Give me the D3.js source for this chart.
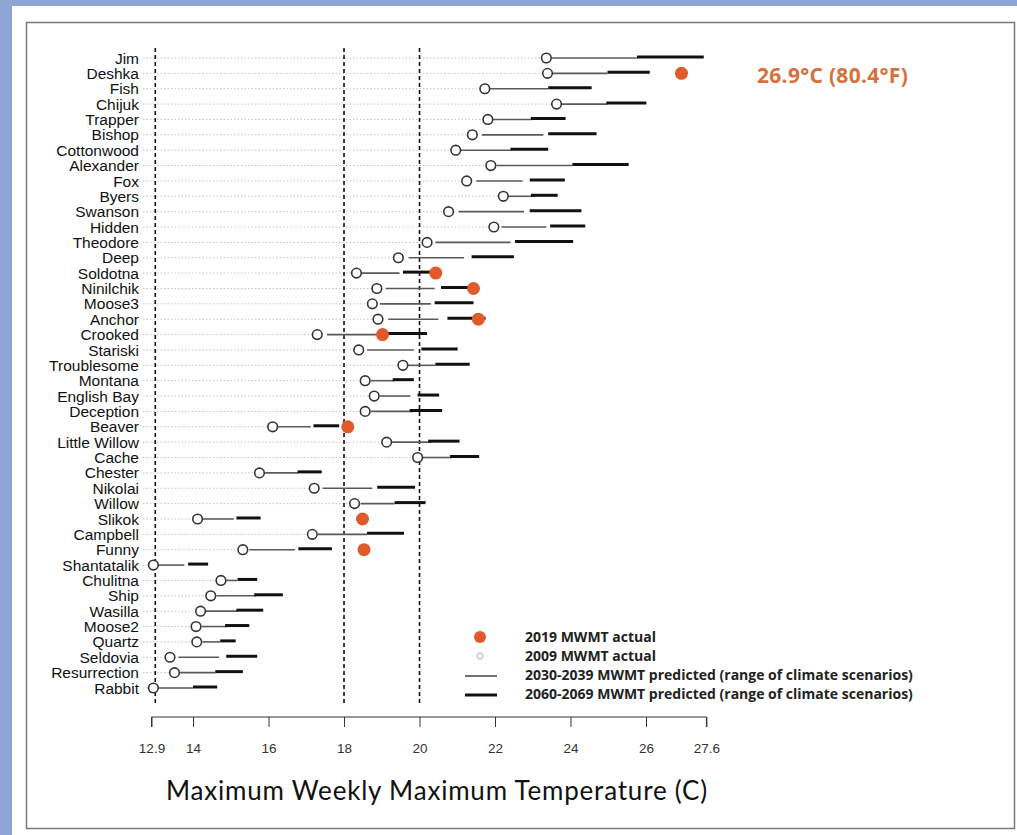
<!DOCTYPE html>
<html>
<head>
<meta charset="utf-8">
<script src="https://cdn.jsdelivr.net/npm/d3@7"></script>
<style>
  body { margin: 0; background: #ffffff; }
  svg { display: block; }
</style>
</head>
<body>
<div id="chart"></div>
<script>
// Stream temperature chart: MWMT per site, 2009 / 2019 observed and projected ranges

const sites = ["Jim", "Deshka", "Fish", "Chijuk", "Trapper", "Bishop", "Cottonwood", "Alexander", "Fox", "Byers",
  "Swanson", "Hidden", "Theodore", "Deep", "Soldotna", "Ninilchik", "Moose3", "Anchor", "Crooked", "Stariski",
  "Troublesome", "Montana", "English Bay", "Deception", "Beaver", "Little Willow", "Cache", "Chester", "Nikolai", "Willow",
  "Slikok", "Campbell", "Funny", "Shantatalik", "Chulitna", "Ship", "Wasilla", "Moose2", "Quartz", "Seldovia",
  "Resurrection", "Rabbit"];

// 2009 MWMT actual (open circles)
const actual2009 = [23.36, 23.39, 21.73, 23.63, 21.81, 21.40, 20.96, 21.89, 21.25, 22.22,
  20.77, 21.97, 20.20, 19.44, 18.33, 18.87, 18.75, 18.90, 17.29, 18.39,
  19.56, 18.56, 18.80, 18.56, 16.11, 19.13, 19.95, 15.76, 17.21, 18.28,
  14.12, 17.16, 15.32, 12.95, 14.74, 14.47, 14.20, 14.08, 14.10, 13.39,
  13.51, 12.95];

// 2019 MWMT actual (only some sites)
const actual2019 = [null, 26.94, null, null, null, null, null, null, null, null,
  null, null, null, null, 20.43, 21.43, null, 21.56, 19.02, null,
  null, null, null, null, 18.10, null, null, null, null, null,
  18.49, null, 18.53, null, null, null, null, null, null, null,
  null, null];

// 2030-2039 predicted range
const low2030 = [23.50, 23.51, 21.84, 23.75, 21.94, 21.65, 21.09, 22.04, 21.50, 22.33,
  21.03, 22.17, 20.42, 19.71, 18.46, 19.10, 18.95, 19.17, 17.55, 18.61,
  19.69, 18.71, 18.95, 18.71, 16.25, 19.27, 20.08, 15.91, 17.43, 18.44,
  14.26, 17.31, 15.49, 13.07, 14.88, 14.62, 14.34, 14.23, 14.25, 13.61,
  13.66, 13.07];
const high2030 = [25.76, 24.98, 23.41, 24.98, 22.97, 23.28, 22.43, 24.05, 22.73, 23.07,
  22.77, 23.36, 22.41, 21.18, 19.47, 20.40, 20.30, 20.50, 18.95, 19.85,
  20.42, 19.34, 19.76, 19.83, 17.12, 20.32, 20.86, 16.79, 18.75, 19.34,
  15.08, 18.61, 16.70, 13.77, 15.18, 15.67, 15.18, 14.91, 14.72, 14.69,
  14.59, 14.00];

// 2060-2069 predicted range
const low2060 = [25.76, 24.98, 23.41, 24.95, 22.95, 23.41, 22.41, 24.05, 22.92, 22.95,
  22.92, 23.46, 22.53, 21.38, 19.56, 20.57, 20.40, 20.74, 18.95, 20.05,
  20.42, 19.29, 19.95, 19.74, 17.19, 20.23, 20.81, 16.77, 18.88, 19.34,
  15.15, 18.61, 16.79, 13.87, 15.18, 15.62, 15.15, 14.85, 14.72, 14.88,
  14.59, 14.00];
const high2060 = [27.53, 26.10, 24.56, 26.01, 23.87, 24.69, 23.41, 25.54, 23.85, 23.66,
  24.29, 24.39, 24.07, 22.50, 20.32, 21.40, 21.43, 21.75, 20.20, 21.01,
  21.33, 19.85, 20.52, 20.60, 17.87, 21.06, 21.58, 17.41, 19.88, 20.16,
  15.79, 19.59, 17.68, 14.40, 15.70, 16.38, 15.86, 15.49, 15.13, 15.70,
  15.32, 14.64];

const thresholds = [13, 18, 20];
const tickValues = [12.9, 14, 16, 18, 20, 22, 24, 26, 27.6];
const legendItems = ["2019 MWMT actual", "2009 MWMT actual",
  "2030-2039 MWMT predicted (range of climate scenarios)",
  "2060-2069 MWMT predicted (range of climate scenarios)"];

const orange = "#e05a2b";
const W = 1017, H = 835;

const svg = d3.select("#chart").append("svg")
  .attr("width", W)
  .attr("height", H);

// Page background: blue strips at the left and top edge, then a framed white panel
svg.append("rect").attr("x", 0).attr("y", 0).attr("width", W).attr("height", H).attr("fill", "#8ea6d6");
svg.append("rect").attr("x", 12).attr("y", 6).attr("width", W - 12).attr("height", H - 6).attr("fill", "#ffffff");
svg.append("rect")
  .attr("x", 26.5).attr("y", 22.5).attr("width", 988).attr("height", 806)
  .attr("fill", "none").attr("stroke", "#7a7a7a").attr("stroke-width", 1.5);

const xScale = d3.scaleLinear()
  .domain([12.9, 27.6])
  .range([151.5, 706.4]);

const yScale = d3.scalePoint()
  .domain(sites)
  .range([58, 688]);

// Dotted guide from the label to the 2009 value
svg.append("g")
  .selectAll("line")
  .data(sites)
  .enter()
  .append("line")
  .attr("x1", 143)
  .attr("x2", (d, i) => xScale(actual2009[i]))
  .attr("y1", d => yScale(d))
  .attr("y2", d => yScale(d))
  .attr("stroke", "#c4c4c4")
  .attr("stroke-width", 1)
  .attr("stroke-dasharray", "1.5,2");

// Site labels
svg.append("g")
  .selectAll("text")
  .data(sites)
  .enter()
  .append("text")
  .attr("x", 139)
  .attr("y", d => yScale(d))
  .attr("dy", "0.36em")
  .attr("text-anchor", "end")
  .style("font-family", "'Liberation Sans', Arial, sans-serif")
  .style("font-size", "15.5px")
  .style("fill", "#111")
  .text(d => d);

// Threshold lines
svg.append("g")
  .selectAll("line")
  .data(thresholds)
  .enter()
  .append("line")
  .attr("x1", d => xScale(d))
  .attr("x2", d => xScale(d))
  .attr("y1", 48)
  .attr("y2", 704)
  .attr("stroke", "#111")
  .attr("stroke-width", 1.6)
  .attr("stroke-dasharray", "4,3");

// 2030s ranges (thin)
svg.append("g")
  .selectAll("line")
  .data(sites)
  .enter()
  .append("line")
  .attr("x1", (d, i) => xScale(low2030[i]))
  .attr("x2", (d, i) => xScale(high2030[i]))
  .attr("y1", d => yScale(d))
  .attr("y2", d => yScale(d))
  .attr("stroke", "#5a5a5a")
  .attr("stroke-width", 1.6);

// 2060s ranges (thick)
svg.append("g")
  .selectAll("line")
  .data(sites)
  .enter()
  .append("line")
  .attr("x1", (d, i) => xScale(low2060[i]))
  .attr("x2", (d, i) => xScale(high2060[i]))
  .attr("y1", d => yScale(d) - 1)
  .attr("y2", d => yScale(d) - 1)
  .attr("stroke", "#111")
  .attr("stroke-width", 3);

// 2009 open circles
svg.append("g")
  .selectAll("circle")
  .data(sites)
  .enter()
  .append("circle")
  .attr("cx", (d, i) => xScale(actual2009[i]))
  .attr("cy", d => yScale(d))
  .attr("r", 4.8)
  .attr("fill", "#fff")
  .attr("stroke", "#333")
  .attr("stroke-width", 1.6);

// 2019 filled orange dots
svg.append("g")
  .selectAll("circle")
  .data(sites.filter((d, i) => actual2019[i] !== null))
  .enter()
  .append("circle")
  .attr("cx", d => xScale(actual2019[sites.indexOf(d)]))
  .attr("cy", d => yScale(d))
  .attr("r", 6.5)
  .attr("fill", orange);

// Highlight for the Deshka record
svg.append("text")
  .attr("x", 757)
  .attr("y", 83)
  .style("font-family", "'Open Sans', sans-serif")
  .style("font-size", "21px")
  .style("font-weight", "bold")
  .style("letter-spacing", "0.3px")
  .style("fill", "#d8703c")
  .text("26.9\u00B0C (80.4\u00B0F)");

// X axis (R style: line with ticks hanging down)
const axis = svg.append("g")
  .attr("transform", "translate(0,717)")
  .call(d3.axisBottom(xScale).tickValues(tickValues).tickSize(10).tickPadding(16)
    .tickFormat(d => d3.format(".1~f")(d)));
axis.select(".domain").attr("stroke", "#333").attr("d", "M" + xScale(12.9) + ",10V0H" + xScale(27.6) + "V10");
axis.selectAll(".tick line").attr("stroke", "#333");
axis.selectAll(".tick text")
  .style("font-family", "'Liberation Sans', Arial, sans-serif")
  .style("font-size", "13.5px")
  .style("fill", "#333");

svg.append("text")
  .attr("x", 437)
  .attr("y", 800)
  .attr("text-anchor", "middle")
  .style("font-family", "Lato, sans-serif")
  .style("font-size", "26px")
  .style("letter-spacing", "0.8px")
  .style("fill", "#111")
  .text("Maximum Weekly Maximum Temperature (C)");

// Legend
const legend = svg.append("g").attr("transform", "translate(480,637)");
const legendGap = 19;
legend.append("circle").attr("cx", 0).attr("cy", 0).attr("r", 6).attr("fill", orange);
legend.append("circle").attr("cx", 0).attr("cy", legendGap).attr("r", 3)
  .attr("fill", "#fff").attr("stroke", "#aaa").attr("stroke-width", 1);
legend.append("line").attr("x1", -15).attr("x2", 17).attr("y1", legendGap * 2 + 1).attr("y2", legendGap * 2 + 1)
  .attr("stroke", "#333").attr("stroke-width", 1.4);
legend.append("line").attr("x1", -15).attr("x2", 17).attr("y1", legendGap * 3 + 1).attr("y2", legendGap * 3 + 1)
  .attr("stroke", "#111").attr("stroke-width", 3);
legend.selectAll("text.legend-label")
  .data(legendItems)
  .enter()
  .append("text")
  .attr("class", "legend-label")
  .attr("x", 45)
  .attr("y", (d, i) => i * legendGap)
  .attr("dy", "0.35em")
  .style("font-family", "'Open Sans', sans-serif")
  .style("font-size", "14px")
  .style("font-weight", "bold")
  .style("fill", "#222")
  .text(d => d);
</script>
</body>
</html>
